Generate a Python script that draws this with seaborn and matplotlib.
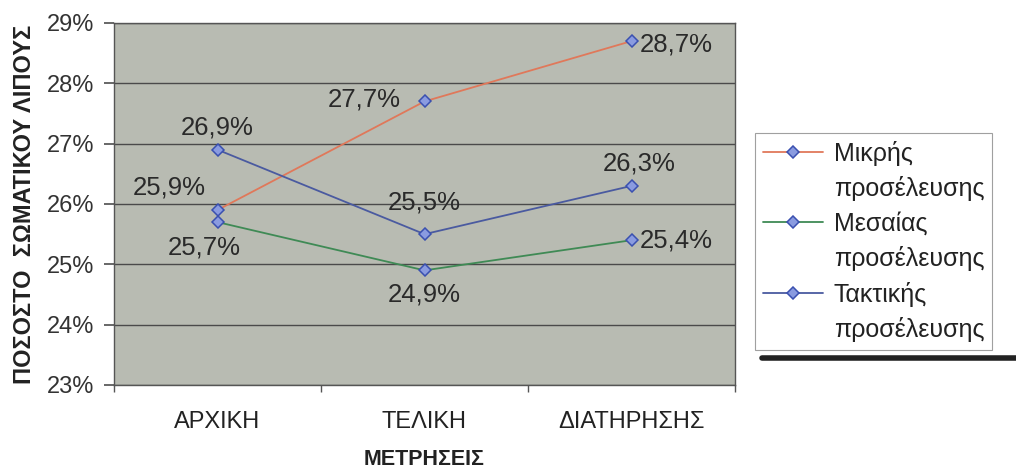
import matplotlib
matplotlib.use("Agg")
import matplotlib.pyplot as plt
import seaborn as sns
import pandas as pd
import numpy as np
from matplotlib.ticker import FuncFormatter, FixedLocator

categories = ["ΑΡΧΙΚΗ", "ΤΕΛΙΚΗ", "ΔΙΑΤΗΡΗΣΗΣ"]
series_names = ["Μικρής", "Μεσαίας", "Τακτικής"]
legend_suffix = "προσέλευσης"
mikris = [25.9, 27.7, 28.7]
mesaias = [25.7, 24.9, 25.4]
taktikis = [26.9, 25.5, 26.3]
y_ticks = [23, 24, 25, 26, 27, 28, 29]

sns.set_theme(style="white")
plt.rcParams['font.family'] = ['Liberation Sans', 'DejaVu Sans']

rows = []
for name, vals in zip(series_names, [mikris, mesaias, taktikis]):
    for i, (c, v) in enumerate(zip(categories, vals)):
        rows.append({"cat": i, "label": c, "series": name, "value": v})
df = pd.DataFrame(rows)

palette = {series_names[0]: "#e0785a", series_names[1]: "#3f8a55", series_names[2]: "#4a5aa0"}

fig = plt.figure(figsize=(10.16, 4.73), dpi=100)
fig.patch.set_facecolor("white")
ax = fig.add_axes([114/1016, 1-385/473, (735-114)/1016, (385-23)/473])
ax.set_facecolor("#b8bbb2")

sns.lineplot(data=df, x="cat", y="value", hue="series", palette=palette, marker="D",
             markersize=6, markerfacecolor="#8a9be0", markeredgecolor="#3a50b0",
             markeredgewidth=1.1, linewidth=1.3, ax=ax, legend=True, sort=False)

ax.set_xlim(-0.5, 2.5)
ax.set_ylim(23, 29)
ax.yaxis.set_major_locator(FixedLocator(y_ticks))
ax.yaxis.set_major_formatter(FuncFormatter(lambda v, p: f"{v:.0f}%"))
ax.set_xticks(range(len(categories)))
ax.set_xticklabels(categories, fontsize=17)
ax.tick_params(axis="x", length=0, pad=19, colors="#222222")
ax.set_xticks([-0.5, 0.5, 1.5, 2.5], minor=True)
ax.tick_params(axis="x", which="minor", length=5, direction="out", color="#555555", bottom=True)
ax.tick_params(axis="y", length=7, direction="out", color="#555555", left=True, labelsize=17, labelcolor="#333333", pad=7)
ax.grid(axis="y", color="#4a4a4a", linewidth=1.0)
ax.set_axisbelow(True)
for s in ax.spines.values():
    s.set_color("#555555")
    s.set_linewidth(1.0)

ax.set_xlabel("ΜΕΤΡΗΣΕΙΣ", fontsize=15.5, fontweight="bold", labelpad=11, color="#222222")
ax.set_ylabel("ΠΟΣΟΣΤΟ  ΣΩΜΑΤΙΚΟΥ ΛΙΠΟΥΣ", fontsize=17, fontweight="bold", labelpad=8, color="#222222")

def lab(x, y, dx, dy, ha="center"):
    ax.annotate(f"{y:.1f}%".replace(".", ","), (x, y), xytext=(dx, dy), textcoords="offset pixels",
                ha=ha, va="center", fontsize=18.5, color="#2a2a2a")

lab(0, mikris[0], -48, 23)
lab(1, mikris[1], -60, 2)
lab(2, mikris[2], 8, -3, ha="left")
lab(0, mesaias[0], -13, -25)
lab(1, mesaias[1], 0, -24)
lab(2, mesaias[2], 8, 0, ha="left")
lab(0, taktikis[0], 0, 22)
lab(1, taktikis[1], 0, 32)
lab(2, taktikis[2], 8, 22)

handles, labels = ax.get_legend_handles_labels()
ax.get_legend().remove()
blank = plt.Line2D([], [], linestyle="none", marker=None)
leg_handles, leg_labels = [], []
for h, l in zip(handles, labels):
    leg_handles += [h, blank]
    leg_labels += [l, legend_suffix]
leg = fig.legend(leg_handles, leg_labels, loc="upper left", bbox_to_anchor=(755/1016, 1-133/473),
                 frameon=True, fontsize=18, handlelength=2.4, labelspacing=0.42,
                 borderpad=0.3, handletextpad=0.45, fancybox=False, borderaxespad=0)
leg.get_frame().set_edgecolor("#888888")
leg.get_frame().set_linewidth(0.8)
for t in leg.get_texts():
    t.set_color("#222222")

line = plt.Line2D([762/1016, 1.0], [1-358/473, 1-358/473], color="#222222", linewidth=4,
                  transform=fig.transFigure, zorder=10)
fig.add_artist(line)

fig.savefig("out.png", dpi=100, facecolor="white")
